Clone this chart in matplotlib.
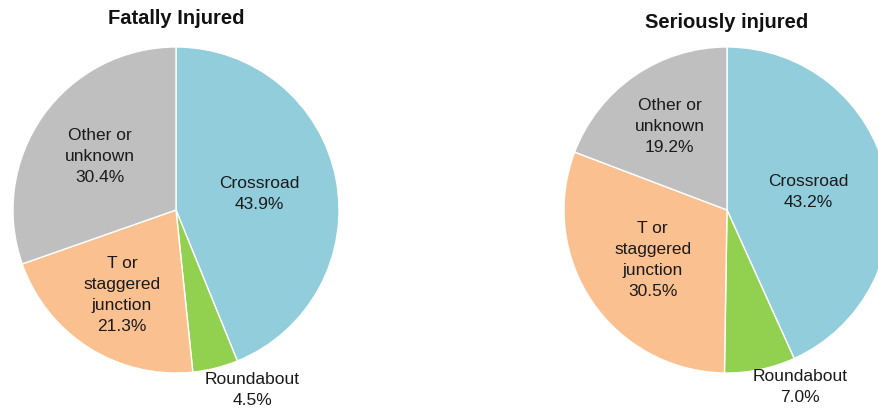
import numpy as np
import matplotlib
matplotlib.use("Agg")
import matplotlib.pyplot as plt

plt.rcParams['font.family'] = ['Liberation Sans', 'DejaVu Sans']

# --- data ---
categories = ["Crossroad", "Roundabout", "T or\nstaggered\njunction", "Other or\nunknown"]
fatal_pct = [43.9, 4.5, 21.3, 30.4]
serious_pct = [43.2, 7.0, 30.5, 19.2]
titles = ["Fatally Injured", "Seriously injured"]

colors = ["#92CDDC", "#92D050", "#FAC090", "#BFBFBF"]

W, H = 879, 409
fig = plt.figure(figsize=(W / 100, H / 100), dpi=100)

R_PX = 163


def pie_axes(cx, cy):
    # place an axes so the unit pie has centre (cx, cy) in pixels, radius R_PX
    return fig.add_axes([(cx - R_PX) / W, (H - cy - R_PX) / H,
                         2 * R_PX / W, 2 * R_PX / H])


def draw_pie(ax, values, title, label_pos, title_y):
    wedges, _ = ax.pie(values, colors=colors, startangle=90, counterclock=False,
                       radius=1.0, wedgeprops=dict(edgecolor="white", linewidth=1.0))
    ax.set_xlim(-1, 1)
    ax.set_ylim(-1, 1)
    ax.set_aspect("equal")
    ax.axis("off")
    for w, name, v, pos in zip(wedges, categories, values, label_pos):
        kind, a, b = pos
        if kind == "polar":
            ang = np.deg2rad((w.theta1 + w.theta2) / 2)
            x, y = a * np.cos(ang), a * np.sin(ang)
        else:
            x, y = a, b
        ax.text(x, y, f"{name}\n{v:.1f}%", ha="center", va="center",
                fontsize=12.5, color="#1a1a1a", linespacing=1.5, clip_on=False)
    ax.text(0, title_y, title, ha="center", va="center", fontsize=14.5,
            fontweight="bold", color="#111111", clip_on=False)


ax1 = pie_axes(176, 210)
draw_pie(ax1, fatal_pct, titles[0],
         [("polar", 0.52, 0), ("xy", 0.47, -1.105), ("polar", 0.62, 0), ("polar", 0.57, 0)],
         title_y=1.175)

ax2 = pie_axes(727, 210)
draw_pie(ax2, serious_pct, titles[1],
         [("polar", 0.51, 0), ("xy", 0.45, -1.085), ("polar", 0.55, 0), ("polar", 0.62, 0)],
         title_y=1.15)

fig.savefig("out.png", dpi=100)
